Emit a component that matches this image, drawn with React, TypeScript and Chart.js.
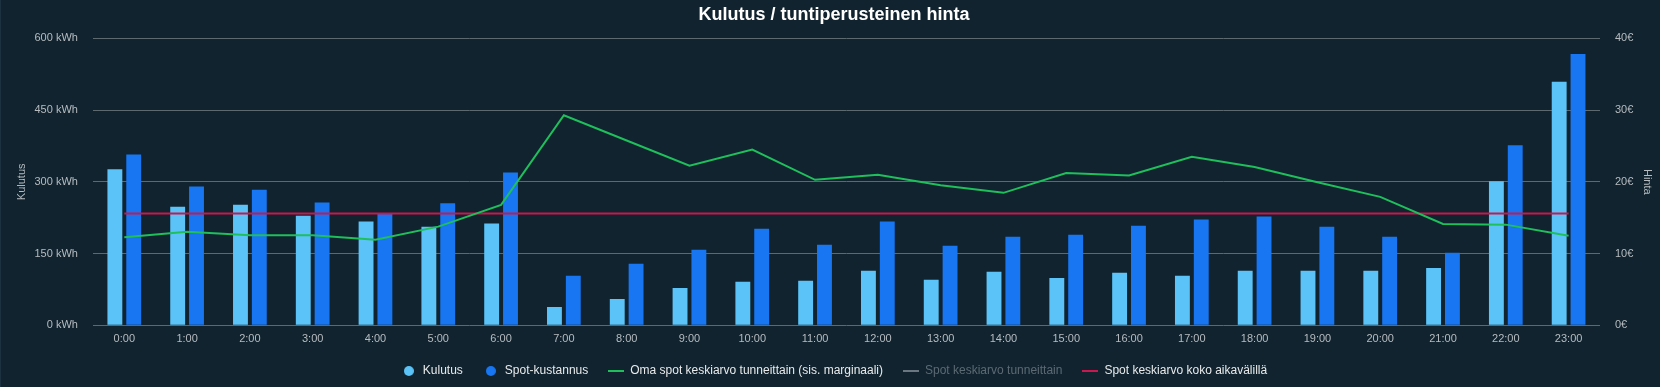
import React, { useEffect, useRef } from 'react';
import { Chart, registerables } from 'chart.js';

Chart.register(...registerables);

const hours = ['0:00', '1:00', '2:00', '3:00', '4:00', '5:00', '6:00', '7:00', '8:00', '9:00', '10:00', '11:00', '12:00', '13:00', '14:00', '15:00', '16:00', '17:00', '18:00', '19:00', '20:00', '21:00', '22:00', '23:00'];

// Kulutus (kWh), left axis
const kulutus = [326, 248, 252, 229, 217, 206, 213, 38.5, 55, 78, 91, 93, 114, 95, 112, 99, 110, 103.5, 114, 114, 114, 120, 301, 509];

// Spot-kustannus (€), right axis
const spotKustannus = [23.8, 19.35, 18.9, 17.1, 15.5, 17.0, 21.3, 6.9, 8.58, 10.54, 13.47, 11.24, 14.45, 11.1, 12.35, 12.63, 13.89, 14.73, 15.15, 13.75, 12.35, 10.12, 25.08, 37.8];

// Oma spot keskiarvo tunneittain (sis. marginaali) (€)
const omaSpot = [12.26, 13.05, 12.54, 12.54, 11.93, 13.75, 16.78, 29.28, 25.76, 22.24, 24.48, 20.28, 20.98, 19.53, 18.46, 21.21, 20.89, 23.5, 22.05, 19.95, 17.9, 14.13, 14.03, 12.49];

// Spot keskiarvo tunneittain (hidden series)
const spotTunneittain: number[] = [];

// Spot keskiarvo koko aikavälillä (€)
const spotKoko = [15.57, 15.57, 15.57, 15.57, 15.57, 15.57, 15.57, 15.57, 15.57, 15.57, 15.57, 15.57, 15.57, 15.57, 15.57, 15.57, 15.57, 15.57, 15.57, 15.57, 15.57, 15.57, 15.57, 15.57];

const leftTicks = { min: 0, max: 600, step: 150, unit: ' kWh' };
const rightTicks = { min: 0, max: 40, step: 10, unit: '€' };

const BG = '#10232f';
const GRID = '#5d686f';
const TICK = '#b7bcc0';
const C_KULUTUS = '#5bc3f7';
const C_SPOT = '#1876f2';
const C_OMA = '#1fbf5c';
const C_TUNNEITTAIN = '#6a7780';
const C_KOKO = '#c9174f';

function circleMarker(color: string, d: number) {
  const c = document.createElement('canvas');
  c.width = d;
  c.height = d;
  const ctx = c.getContext('2d')!;
  ctx.fillStyle = color;
  ctx.beginPath();
  ctx.arc(d / 2, d / 2, d / 2, 0, Math.PI * 2);
  ctx.fill();
  return c;
}

function lineMarker(color: string, w: number, h: number) {
  const c = document.createElement('canvas');
  c.width = w;
  c.height = h;
  const ctx = c.getContext('2d')!;
  ctx.fillStyle = color;
  ctx.fillRect(0, 0, w, h);
  return c;
}

export default function App() {
  const ref = useRef<HTMLCanvasElement>(null);

  useEffect(() => {
    document.body.style.margin = '0';
    document.body.style.background = BG;
    Chart.defaults.font.family = "'Liberation Sans', Arial, Helvetica, sans-serif";

    const markers = [
      circleMarker(C_KULUTUS, 10),
      circleMarker(C_SPOT, 10),
      lineMarker(C_OMA, 16, 2),
      lineMarker(C_TUNNEITTAIN, 16, 2),
      lineMarker(C_KOKO, 16, 2),
    ];

    const chart = new Chart(ref.current!, {
      type: 'bar',
      data: {
        labels: hours,
        datasets: [
          {
            type: 'bar',
            label: 'Kulutus',
            data: kulutus,
            backgroundColor: C_KULUTUS,
            borderWidth: 0,
            yAxisID: 'y',
            order: 2,
            categoryPercentage: 0.6,
            barPercentage: 0.79,
          },
          {
            type: 'bar',
            label: 'Spot-kustannus',
            data: spotKustannus,
            backgroundColor: C_SPOT,
            borderWidth: 0,
            yAxisID: 'y1',
            order: 2,
            categoryPercentage: 0.6,
            barPercentage: 0.79,
          },
          {
            type: 'line',
            label: 'Oma spot keskiarvo tunneittain (sis. marginaali)',
            data: omaSpot,
            borderColor: C_OMA,
            backgroundColor: C_OMA,
            borderWidth: 2,
            pointRadius: 0,
            tension: 0,
            yAxisID: 'y1',
            order: 0,
          },
          {
            type: 'line',
            label: 'Spot keskiarvo tunneittain',
            data: spotTunneittain,
            borderColor: C_TUNNEITTAIN,
            backgroundColor: C_TUNNEITTAIN,
            borderWidth: 2,
            pointRadius: 0,
            hidden: true,
            yAxisID: 'y1',
            order: 1,
          },
          {
            type: 'line',
            label: 'Spot keskiarvo koko aikavälillä',
            data: spotKoko,
            borderColor: C_KOKO,
            backgroundColor: C_KOKO,
            borderWidth: 2,
            pointRadius: 0,
            tension: 0,
            yAxisID: 'y1',
            order: 1,
          },
        ],
      } as any,
      options: {
        responsive: true,
        maintainAspectRatio: false,
        animation: false,
        layout: { padding: { left: 8, right: 0, top: 0, bottom: 0 } },
        plugins: {
          tooltip: { enabled: false },
          title: {
            display: true,
            text: 'Kulutus / tuntiperusteinen hinta',
            color: '#ffffff',
            font: { size: 18, weight: 'bold' },
            padding: { top: 4, bottom: 12.7 },
          },
          legend: {
            position: 'bottom',
            labels: {
              usePointStyle: true,
              pointStyleWidth: 16,
              boxHeight: 12,
              padding: 20,
              font: { size: 12 },
              color: '#e8eaeb',
              generateLabels: (ch: any) =>
                ch.data.datasets.map((ds: any, i: number) => ({
                  text: ds.label,
                  fillStyle: ds.backgroundColor,
                  strokeStyle: ds.borderColor || ds.backgroundColor,
                  lineWidth: 0,
                  hidden: false,
                  pointStyle: markers[i],
                  fontColor: i === 3 ? '#5c6a73' : '#e8eaeb',
                  datasetIndex: i,
                })),
            },
          },
        },
        scales: {
          x: {
            grid: { display: false, drawTicks: false },
            border: { display: false },
            ticks: { color: TICK, font: { size: 11 }, padding: 7, maxRotation: 0, autoSkip: false },
            afterFit: (s: any) => {
              s.height = 19.7;
            },
          },
          y: {
            position: 'left',
            min: leftTicks.min,
            max: leftTicks.max,
            ticks: {
              stepSize: leftTicks.step,
              color: TICK,
              font: { size: 11 },
              padding: 15,
              callback: (v: any) => v + leftTicks.unit,
            },
            grid: { color: GRID, lineWidth: 1, drawTicks: false },
            border: { display: false },
            title: { display: true, text: 'Kulutus', color: TICK, font: { size: 11 }, padding: { top: 7, bottom: 0 } },
            afterFit: (s: any) => {
              s.width = 84.9;
            },
          },
          y1: {
            position: 'right',
            min: rightTicks.min,
            max: rightTicks.max,
            ticks: {
              stepSize: rightTicks.step,
              color: TICK,
              font: { size: 11 },
              padding: 15,
              callback: (v: any) => v + rightTicks.unit,
            },
            grid: { drawOnChartArea: false, drawTicks: false },
            border: { display: false },
            title: { display: true, text: 'Hinta', color: TICK, font: { size: 11 }, padding: { top: 6, bottom: 0 } },
            afterFit: (s: any) => {
              s.width = 60;
            },
          },
        },
      } as any,
    });
    return () => chart.destroy();
  }, []);

  return (
    <div style={{ position: 'relative', width: 1660, height: 387, background: BG }}>
      <canvas ref={ref} />
      <div style={{ position: 'absolute', left: 0, top: 0, width: 1, height: 387, background: '#1c3241' }} />
    </div>
  );
}
